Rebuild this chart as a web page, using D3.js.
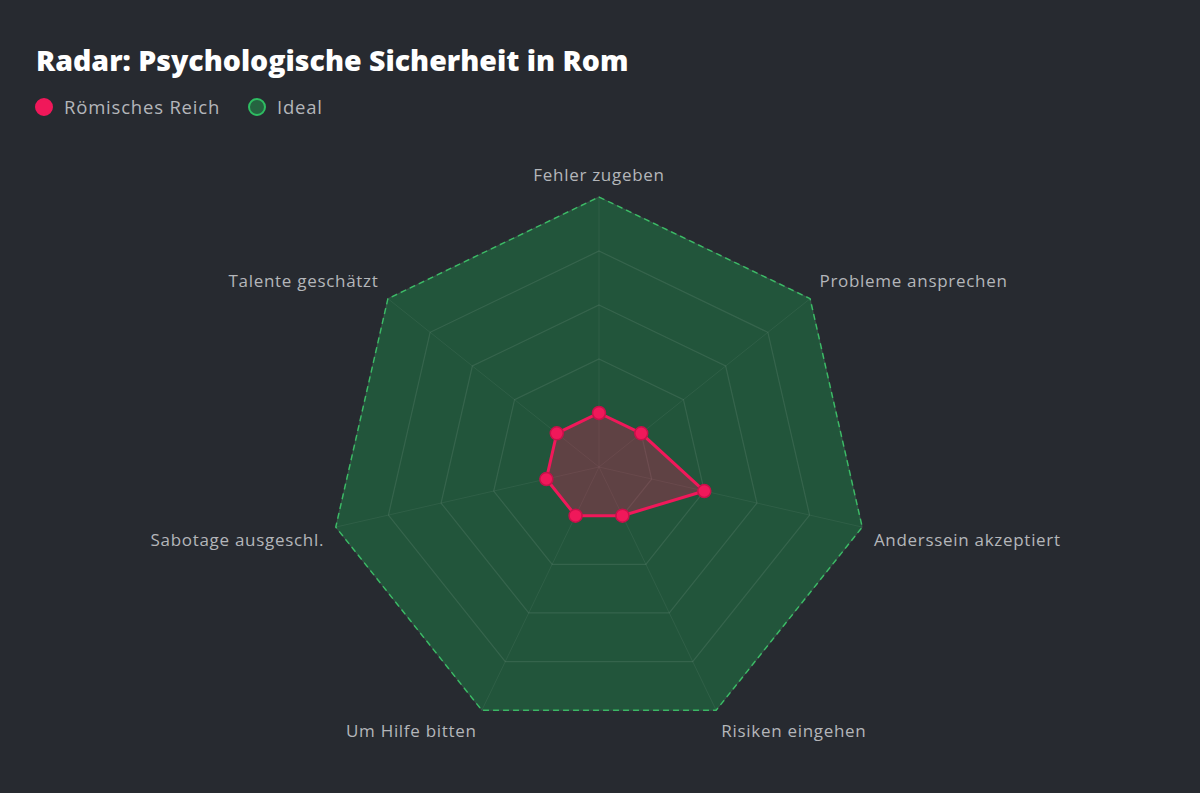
<!DOCTYPE html>
<html><head><meta charset="utf-8">
<script src="https://cdn.jsdelivr.net/npm/d3@7"></script>
<style>html,body{margin:0;padding:0;background:#272a30;}svg{display:block;}</style>
</head><body>
<script>
const categories = ["Fehler zugeben","Probleme ansprechen","Anderssein akzeptiert","Risiken eingehen","Um Hilfe bitten","Sabotage ausgeschl.","Talente geschätzt"];
const romValues = [2, 2, 4, 2, 2, 2, 2];
const idealValues = [10, 10, 10, 10, 10, 10, 10];
const gridTicks = [2, 4, 6, 8, 10];
const seriesNames = ["Römisches Reich", "Ideal"];

const W = 1200, H = 793, cx = 599, cy = 467, R = 270;
const svg = d3.select("body").append("svg").attr("width", W).attr("height", H);
svg.append("rect").attr("width", W).attr("height", H).attr("fill", "#272a30");

const font = "'Open Sans', Lato, sans-serif";
svg.append("text").attr("x", 36).attr("y", 71).text("Radar: Psychologische Sicherheit in Rom")
  .attr("fill", "#ffffff").attr("font-family", font).attr("font-weight", 800).attr("font-size", 28.5);

// legend
const leg = [{name: seriesNames[0], x: 44, fill: "#f0185a", stroke: "#f0185a"},
             {name: seriesNames[1], x: 257, fill: "#256340", stroke: "#2ebd62"}];
leg.forEach(l => {
  svg.append("circle").attr("cx", l.x).attr("cy", 107).attr("r", 8).attr("fill", l.fill)
    .attr("stroke", l.stroke).attr("stroke-width", 2);
  svg.append("text").attr("x", l.x + 20).attr("y", 114).text(l.name).attr("fill", "#b4b6ba")
    .attr("font-family", font).attr("font-size", 18.5).attr("letter-spacing", 0.8);
});

const r = d3.scaleLinear().domain([0, 10]).range([0, R]);
const n = categories.length;
const ang = i => i * 2 * Math.PI / n;
const pt = (i, v) => [cx + r(v) * Math.sin(ang(i)), cy - r(v) * Math.cos(ang(i))];
const line = d3.line().curve(d3.curveLinearClosed);

// ideal
svg.append("path").attr("d", line(idealValues.map((v, i) => pt(i, v))))
  .attr("fill", "#22553b").attr("stroke", "#2db35a").attr("stroke-width", 1.5).attr("stroke-dasharray", "6,4");

// grid
gridTicks.forEach(t => {
  svg.append("path").attr("d", line(categories.map((c, i) => pt(i, t))))
    .attr("fill", "none").attr("stroke", "rgba(255,255,255,0.09)").attr("stroke-width", 1.2);
});
categories.forEach((c, i) => {
  const p = pt(i, 10);
  svg.append("line").attr("x1", cx).attr("y1", cy).attr("x2", p[0]).attr("y2", p[1])
    .attr("stroke", "rgba(255,255,255,0.06)").attr("stroke-width", 1);
});

// labels
categories.forEach((c, i) => {
  const a = ang(i), s = Math.sin(a), co = Math.cos(a);
  const lr = R + 12;
  const x = cx + lr * s;
  const y = cy - lr * co + (co > 0 ? -10 : 10);
  const anchor = Math.abs(s) < 0.05 ? "middle" : (s > 0 ? "start" : "end");
  svg.append("text").attr("x", x).attr("y", y).attr("dy", "0.35em").attr("text-anchor", anchor)
    .text(c).attr("fill", "#b4b6ba").attr("font-family", font).attr("font-size", 17)
    .attr("letter-spacing", 0.7);
});

// data
const pts = romValues.map((v, i) => pt(i, v));
svg.append("path").attr("d", line(pts)).attr("fill", "rgba(240,24,90,0.3)")
  .attr("stroke", "#f0185a").attr("stroke-width", 3);
svg.selectAll("circle.pt").data(pts).enter().append("circle").attr("class", "pt")
  .attr("cx", d => d[0]).attr("cy", d => d[1]).attr("r", 6.5)
  .attr("fill", "#f0185a").attr("stroke", "#c8104a").attr("stroke-width", 1.5);
</script>
</body></html>
